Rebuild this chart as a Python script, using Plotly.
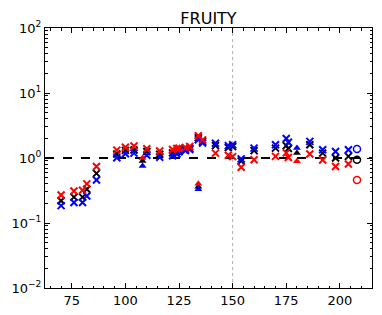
import plotly.graph_objects as go

# Cross markers (x)
x_cross = [70, 76, 80, 82, 86.5, 96, 100, 104, 110, 116, 122, 124, 125, 128, 130,
           134, 136, 142, 148, 150, 154, 160, 170, 175, 176, 186, 192, 198, 204]
red_cross = [0.27, 0.31, 0.32, 0.40, 0.74, 1.32, 1.46, 1.53, 1.39, 1.28, 1.35, 1.4, 1.42, 1.45, 1.5,
             2.2, 1.9, 1.19, 1.1, 1.05, 0.72, 0.94, 1.06, 1.2, 1.02, 1.15, 0.93, 0.74, 0.81]
black_cross = [0.22, 0.25, 0.25, 0.33, 0.58, 1.15, 1.31, 1.33, 1.26, 1.14, 1.2, 1.25, 1.3, 1.35, 1.4,
               2.05, 1.8, 1.55, 1.45, 1.5, 0.9, 1.3, 1.42, 1.55, 1.4, 1.6, 1.19, 1.0, 1.06]
blue_cross = [0.185, 0.207, 0.207, 0.26, 0.46, 1.01, 1.16, 1.19, 1.1, 1.03, 1.08, 1.15, 1.25, 1.3, 1.35,
              1.91, 1.7, 1.69, 1.55, 1.6, 0.97, 1.42, 1.6, 2.0, 1.75, 1.8, 1.34, 1.26, 1.34]

# Triangle markers
x_tri = [108, 134, 180]
red_tri = [1.0, 0.40, 0.89]
black_tri = [0.9, 0.36, 1.19]
blue_tri = [0.75, 0.33, 1.42]

# Circle markers
x_circ = [208]
red_circ = [0.46]
black_circ = [0.94]
blue_circ = [1.37]

y_tickvals = [0.01, 0.1, 1, 10, 100]
y_ticktext = ["10<sup>−2</sup>", "10<sup>−1</sup>", "10<sup>0</sup>", "10<sup>1</sup>", "10<sup>2</sup>"]
x_tickvals = [75, 100, 125, 150, 175, 200]

colors = {"black": "#000000", "blue": "#0000ff", "red": "#ff0000"}

y_minor = [m * 10.0 ** e for e in range(-2, 2) for m in range(2, 10)]

fig = go.Figure()

# reference lines
fig.add_shape(type="line", xref="paper", yref="y", x0=0, x1=1, y0=1, y1=1,
              line=dict(color="black", width=1.8, dash="dash"), layer="below")
fig.add_shape(type="line", xref="x", yref="paper", x0=150, x1=150, y0=0, y1=1,
              line=dict(color="#b0b0b0", width=1, dash="dot"), layer="below")

for name, ys in [("black", black_cross), ("blue", blue_cross), ("red", red_cross)]:
    fig.add_trace(go.Scatter(x=x_cross, y=ys, mode="markers",
                             marker=dict(symbol="x-thin", size=7, color=colors[name],
                                         line=dict(width=2, color=colors[name])),
                             showlegend=False))
for name, ys in [("black", black_tri), ("blue", blue_tri), ("red", red_tri)]:
    fig.add_trace(go.Scatter(x=x_tri, y=ys, mode="markers",
                             marker=dict(symbol="triangle-up", size=7, color=colors[name]),
                             showlegend=False))
for name, ys in [("black", black_circ), ("blue", blue_circ), ("red", red_circ)]:
    fig.add_trace(go.Scatter(x=x_circ, y=ys, mode="markers",
                             marker=dict(symbol="circle-open", size=7, color=colors[name],
                                         line=dict(width=1.5, color=colors[name])),
                             showlegend=False))

fig.update_layout(
    width=382, height=315,
    margin=dict(l=45, r=10, t=28, b=27, autoexpand=False),
    paper_bgcolor="white", plot_bgcolor="white",
    font=dict(family="DejaVu Sans", size=13, color="black"),
    title=dict(text="FRUITY", x=0.5, xanchor="center", xref="paper",
               y=1, yref="paper", yanchor="bottom", pad=dict(b=4),
               font=dict(size=16, color="black"), automargin=False),
)
fig.update_xaxes(range=[62.5, 215], tickvals=x_tickvals, ticks="inside", ticklen=5,
                 tickcolor="black", showline=True, linecolor="black", linewidth=1,
                 mirror="allticks", showgrid=False, zeroline=False, automargin=False,
                 minor=dict(dtick=5, tick0=0, ticks="inside", ticklen=2.5, tickcolor="black"))
fig.update_yaxes(type="log", range=[-2, 2], tickvals=y_tickvals, ticktext=y_ticktext,
                 ticks="inside", ticklen=5, tickcolor="black", showline=True,
                 linecolor="black", linewidth=1, mirror="allticks", showgrid=False,
                 zeroline=False, automargin=False,
                 minor=dict(tickmode="array", tickvals=y_minor, ticks="inside", ticklen=2.5,
                            tickcolor="black", showgrid=False))

fig.write_html("out.html", config={"displayModeBar": False},
               post_script="document.body.style.margin='0';document.body.style.padding='0';")
